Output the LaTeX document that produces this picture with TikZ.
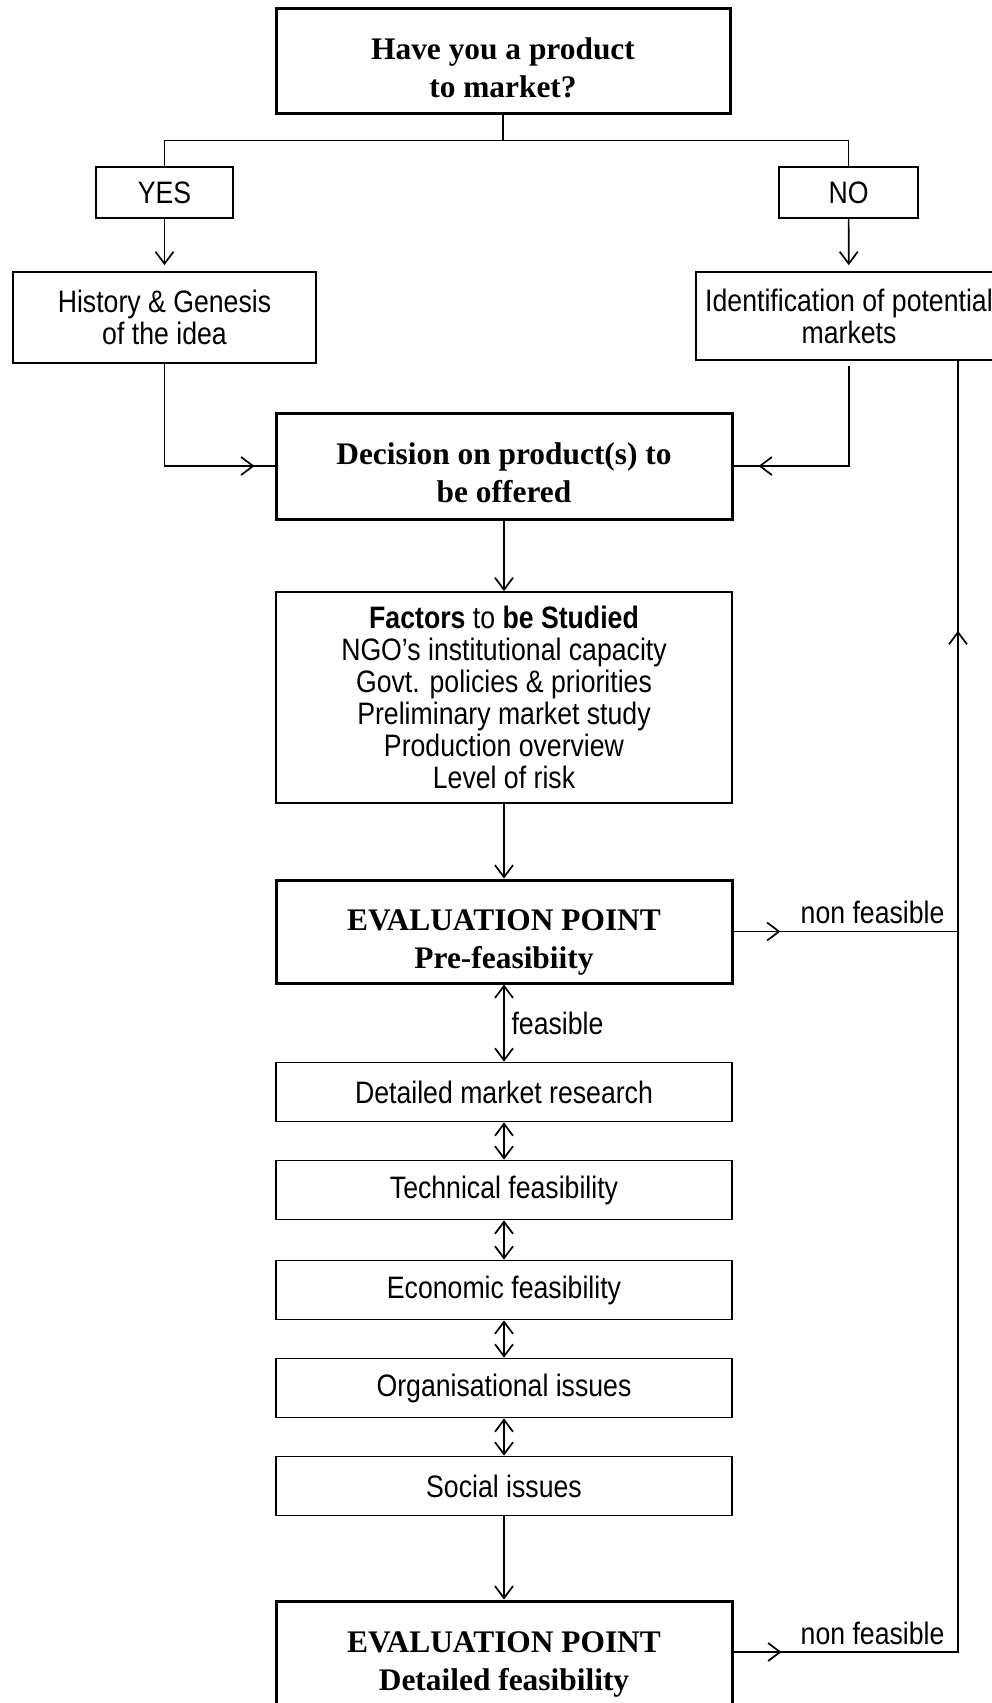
\documentclass[tikz,border=0pt]{standalone}
\usepackage{fontspec}
\setmainfont{Liberation Serif}
\newfontfamily\narrowsf[FakeStretch=0.86]{Liberation Sans}
\usetikzlibrary{arrows.meta,decorations.markings}

\newcommand{\droptext}[1]{\rule{0pt}{#1}}

\tikzset{
	openbarb/.tip={Straight Barb[length=6pt,width=9pt]},
	link/.style={line width=0.85pt},
	arrowto/.style={link, -{openbarb}},
	both/.style={link, {openbarb}-{openbarb}},
	tipat/.style={postaction={decorate}, decoration={markings, mark=at position #1 with {\arrow{openbarb}}}},
	plainbox/.style={draw, line width=0.85pt, inner sep=0pt, align=center, font=\narrowsf\fontsize{15.5}{16}\selectfont},
	keybox/.style={draw, line width=1.5pt, inner sep=0pt, align=center, font=\bfseries\fontsize{15.7}{19}\selectfont},
	sidelabel/.style={font=\narrowsf\fontsize{15.5}{16}\selectfont}
}

\begin{document}
\begin{tikzpicture}[x=0.5pt, y=-0.5pt]
		\useasboundingbox (0,0) rectangle (991,1703);
		% question and the two answers
		\node[keybox, minimum width=227pt, minimum height=52.5pt] (question) at (503,60.5) {\droptext{18pt}Have you a product\\to market?};
		\node[plainbox, minimum width=68.5pt, minimum height=25.5pt] (yes) at (164.5,192.5) {YES};
		\node[plainbox, minimum width=69.5pt, minimum height=25.5pt] (no) at (848.5,192.5) {NO};
		\node[plainbox, minimum width=151.5pt, minimum height=45.5pt] (history) at (164.5,317.5) {History \& Genesis\\of the idea};
		\node[plainbox, minimum width=153pt, minimum height=44pt] (markets) at (849,316) {Identification of potential\\markets};
		% main column
		\node[keybox, minimum width=228pt, minimum height=53pt] (decision) at (504,466) {\droptext{18pt}Decision on product(s) to\\be offered};
		\node[plainbox, minimum width=228pt, minimum height=105.5pt] (factors) at (504,697.5) {\textbf{Factors} to \textbf{be Studied}\\NGO’s institutional capacity\\Govt. policies \& priorities\\Preliminary market study\\Production overview\\Level of risk};
		\node[keybox, minimum width=228pt, minimum height=51.5pt] (prefeas) at (504,931.5) {\droptext{21pt}EVALUATION POINT\\Pre-feasibiity};
		\foreach \name/\txt/\y in {research/Detailed market research/1092, technical/Technical feasibility/1190, economic/Economic feasibility/1290, organisation/Organisational issues/1388, social/Social issues/1486}
			\node[plainbox, minimum width=228pt, minimum height=29.5pt] (\name) at (504,\y) {\txt};
		\node[keybox, minimum width=228pt, minimum height=60pt] (detfeas) at (504,1661) {\droptext{14pt}EVALUATION POINT\\Detailed feasibility};

		% connectors
		\draw[link] (question.south) -- ++(0,26) -| (yes.north);
		\draw[link] (question.south) -- ++(0,26) -| (no.north);
		\draw[arrowto, shorten >=3pt] (yes) -- (history);
		\draw[arrowto, shorten >=3pt] (no) -- (markets);
		\draw[link, tipat=-10pt] (history.south) |- (decision.west);
		\draw[link, tipat=-12.5pt, shorten <=2.5pt] (markets.south) |- (decision.east);
		\draw[arrowto] (decision) -- (factors);
		\draw[arrowto] (factors) -- (prefeas);
		\draw[both] (prefeas) -- node[right, sidelabel]{feasible} (research);
		\foreach \a/\b in {research/technical, technical/economic, economic/organisation, organisation/social}
			\draw[both] (\a) -- (\b);
		\draw[arrowto] (social) -- (detfeas);

		% way back when not feasible
		\coordinate (fbtop) at ([xshift=54.5pt]markets.south);
		\draw[link, postaction={decorate}, decoration={markings, mark=at position 24pt with {\arrow{openbarb}}, mark=at position -135pt with {\arrow{openbarb}}}] ([yshift=4.5pt]detfeas.east) -| node[pos=0.5, above left, sidelabel, xshift=-3pt]{non feasible} (fbtop);
		\draw[link, tipat=23.5pt] (prefeas.east) -- (prefeas.east -| fbtop) node[above left, sidelabel, xshift=-3pt]{non feasible};
	\end{tikzpicture}
\end{document}
